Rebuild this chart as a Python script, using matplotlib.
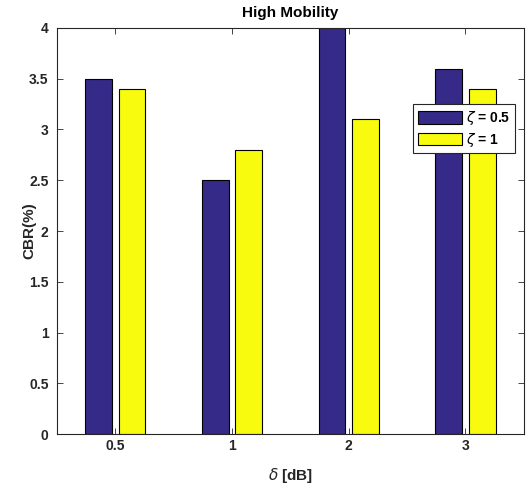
import matplotlib
matplotlib.use("Agg")
import matplotlib.pyplot as plt
import numpy as np

categories = ["0.5", "1", "2", "3"]
zeta_05 = [3.5, 2.5, 4.0, 3.6]
zeta_1 = [3.4, 2.8, 3.1, 3.4]
series_labels = [r"$\zeta$ = 0.5", r"$\zeta$ = 1"]
yticks = [0, 0.5, 1, 1.5, 2, 2.5, 3, 3.5, 4]

plt.rcParams['font.family'] = ['Liberation Sans', 'DejaVu Sans']
plt.rcParams['mathtext.fontset'] = 'dejavusans'

fig = plt.figure(figsize=(5.27, 4.9), dpi=100)
ax = fig.add_axes([0.108, 0.114, 0.886, 0.829])

x = np.arange(1, len(categories) + 1)
w = 0.23
off = 0.143
ax.bar(x - off, zeta_05, w, color='#352a87', edgecolor='black', linewidth=0.8, label=series_labels[0])
ax.bar(x + off, zeta_1, w, color='#f9fb0e', edgecolor='black', linewidth=0.8, label=series_labels[1])

ax.set_xlim(0.5, 4.5)
ax.set_ylim(0, 4)
ax.set_xticks(x)
ax.set_xticklabels(categories)
ax.set_yticks(yticks)
ax.set_yticklabels([f"{v:g}" for v in yticks])
ax.tick_params(direction='in', top=True, right=True, length=4, width=0.6,
               colors='#262626', labelsize=10)
ax.tick_params(axis='y', pad=6)
for lab in ax.get_xticklabels() + ax.get_yticklabels():
    lab.set_fontweight('bold')
for s in ax.spines.values():
    s.set_linewidth(0.8)
    s.set_color('#262626')

ax.set_title("High Mobility", fontsize=11, fontweight='bold', pad=8)
ax.set_xlabel(r"$\delta$ [dB]", fontsize=11, fontweight='bold', color='#262626', labelpad=9)
ax.set_ylabel("CBR(%)", fontsize=11, fontweight='bold', color='#262626')
ax.yaxis.set_label_coords(-0.045, 0.5)

leg = ax.legend(loc='upper left', bbox_to_anchor=(0.762, 0.812), fancybox=False,
                edgecolor='#262626', framealpha=1, handlelength=3.2, handleheight=1.0,
                handletextpad=0.3, borderpad=0.35, labelspacing=0.25, borderaxespad=0,
                prop={'weight': 'bold', 'size': 10})
leg.get_frame().set_linewidth(0.8)

fig.savefig("out.png", dpi=100)
